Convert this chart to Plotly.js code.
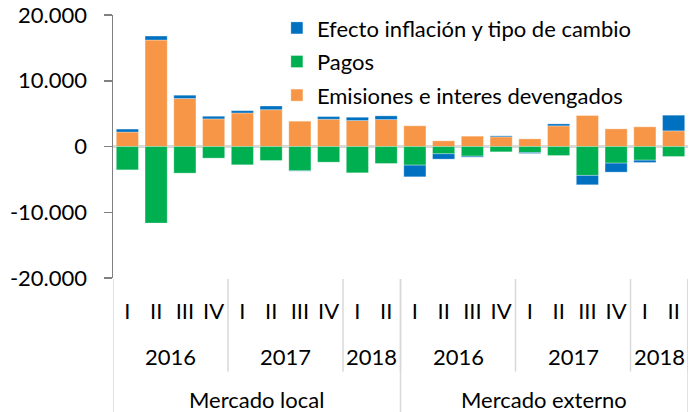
<!DOCTYPE html>
<html>
<head>
<meta charset="utf-8">
<script src="https://cdn.plot.ly/plotly-3.0.1.min.js"></script>
<style>
  html, body { margin: 0; padding: 0; background: #fff; }
  #chart { width: 699px; height: 412px; }
</style>
</head>
<body>
<div id="chart"></div>
<script>
// ---- Data ----
const quarters = ['I','II','III','IV','I','II','III','IV','I','II',
                  'I','II','III','IV','I','II','III','IV','I','II'];
const years = ['2016','2016','2016','2016','2017','2017','2017','2017','2018','2018',
               '2016','2016','2016','2016','2017','2017','2017','2017','2018','2018'];
const markets = ['Mercado local','Mercado local','Mercado local','Mercado local','Mercado local',
                 'Mercado local','Mercado local','Mercado local','Mercado local','Mercado local',
                 'Mercado externo','Mercado externo','Mercado externo','Mercado externo','Mercado externo',
                 'Mercado externo','Mercado externo','Mercado externo','Mercado externo','Mercado externo'];

const emisiones = [2200, 16200, 7300, 4200, 5100, 5600, 3850, 4150, 3950, 4100,
                   3150, 860, 1570, 1470, 1160, 3140, 4710, 2680, 2990, 2380];
const pagos = [-3550, -11650, -4050, -1770, -2780, -2130, -3700, -2380, -4000, -2580,
               -2840, -1110, -1470, -810, -910, -1370, -4400, -2530, -2080, -1520];
const efecto = [450, 600, 500, 400, 350, 560, -50, 400, 500, 560,
                -1770, -810, -150, 150, -150, 300, -1420, -1370, -350, 2380];

const yTickVals = [-20000, -10000, 0, 10000, 20000];
const yTickText = ['-20.000', '-10.000', '0', '10.000', '20.000'];

const seriesNames = ['Emisiones e interes devengados', 'Pagos', 'Efecto inflación y tipo de cambio'];
const seriesColors = ['#F79646', '#00B050', '#0070C0'];

// ---- Build ----
const FONT = 'Lato, "Open Sans", sans-serif';
const FS = 22;
const xIdx = quarters.map((_, i) => i);
const seriesVals = [emisiones, pagos, efecto];

const traces = seriesVals.map((vals, k) => ({
  type: 'bar',
  x: xIdx,
  y: vals,
  name: seriesNames[k],
  legendgroup: 'g' + k,
  legendrank: 10 - k,
  marker: { color: seriesColors[k], line: { color: 'rgba(255,255,255,0.5)', width: 0.6 } },
  hoverinfo: 'skip'
}));

// group boundaries
function groups(labels) {
  const out = [];
  let start = 0;
  for (let i = 1; i <= labels.length; i++) {
    if (i === labels.length || labels[i] !== labels[start] ||
        (labels === years && markets[i] !== markets[start])) {
      out.push({ label: labels[start], start: start, end: i - 1 });
      start = i;
    }
  }
  return out;
}
const yearGroups = groups(years);
const marketGroups = groups(markets);

const sepColor = '#D9D9D9';
const shapes = [];
const annotations = [];
const yTop = -0.004;
yearGroups.forEach(g => {
  shapes.push({ type: 'line', xref: 'x', yref: 'paper', x0: g.end + 0.5, x1: g.end + 0.5,
    y0: yTop, y1: -0.356, line: { color: sepColor, width: 1.5 } });
  annotations.push({ xref: 'x', yref: 'paper', x: (g.start + g.end) / 2, y: -0.298,
    text: g.label, showarrow: false, xanchor: 'center', yanchor: 'middle',
    font: { family: FONT, size: FS, color: '#000' } });
});
marketGroups.forEach((g, j) => {
  if (j === 0) {
    shapes.push({ type: 'line', xref: 'x', yref: 'paper', x0: g.start - 0.5, x1: g.start - 0.5,
      y0: yTop, y1: -0.6, line: { color: sepColor, width: 1.5 } });
  }
  shapes.push({ type: 'line', xref: 'x', yref: 'paper', x0: g.end + 0.5, x1: g.end + 0.5,
    y0: yTop, y1: -0.6, line: { color: sepColor, width: 1.5 } });
  annotations.push({ xref: 'x', yref: 'paper', x: (g.start + g.end) / 2, y: -0.462,
    text: g.label, showarrow: false, xanchor: 'center', yanchor: 'middle',
    font: { family: FONT, size: FS, color: '#000' } });
});

const layout = {
  width: 699, height: 412,
  margin: { l: 113, r: 11, t: 15, b: 134, pad: 0, autoexpand: false },
  paper_bgcolor: '#fff', plot_bgcolor: '#fff',
  font: { family: FONT, size: FS, color: '#000' },
  barmode: 'relative',
  bargap: 0.23,
  showlegend: true,
  legend: {
    x: 0.285, y: 1.03, xanchor: 'left', yanchor: 'top',
    traceorder: 'grouped', tracegroupgap: 2,
    bgcolor: 'rgba(0,0,0,0)', font: { family: FONT, size: FS, color: '#000' }
  },
  xaxis: {
    range: [-0.5, quarters.length - 0.5],
    tickmode: 'array', tickvals: xIdx, ticktext: quarters,
    showline: false, ticks: '', showgrid: false, zeroline: false,
    ticklabelstandoff: 18, automargin: false,
    tickfont: { family: FONT, size: FS, color: '#000' },
    fixedrange: true
  },
  yaxis: {
    range: [-20000, 20000],
    tickmode: 'array', tickvals: yTickVals, ticktext: yTickText,
    showline: true, linecolor: '#808080', linewidth: 1.5,
    ticks: 'outside', ticklen: 8, tickcolor: '#808080', tickwidth: 1.5,
    showgrid: false, automargin: false,
    zeroline: true, zerolinecolor: '#D9D9D9', zerolinewidth: 2.5,
    ticklabelstandoff: 12,
    tickfont: { family: FONT, size: FS, color: '#000' },
    fixedrange: true
  },
  shapes: shapes,
  annotations: annotations
};

Plotly.newPlot('chart', traces, layout, { displayModeBar: false, staticPlot: true });
</script>
</body>
</html>
